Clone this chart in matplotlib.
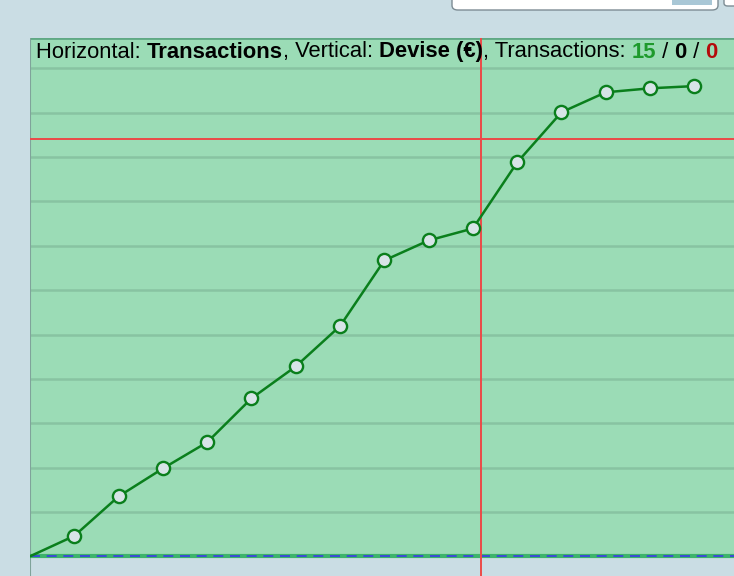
import numpy as np
import matplotlib
matplotlib.use("Agg")
import matplotlib.pyplot as plt
from matplotlib.patches import FancyBboxPatch, Rectangle

# transactions (index) and running balance, in grid units
transactions = list(range(0, 16))
balance = [0, 0.46, 1.35, 1.98, 2.57, 3.56, 4.28, 5.19, 6.67, 7.12, 7.39,
           8.88, 10.01, 10.46, 10.55, 10.60]
red_x = 10.18   # vertical red marker
red_y = 9.41    # horizontal red marker
grid_levels = list(range(1, 12))

header = [("Horizontal: ", "normal", "black"),
          ("Transactions", "bold", "black"),
          (", Vertical: ", "normal", "black"),
          ("Devise (€)", "bold", "black"),
          (", Transactions: ", "normal", "black"),
          ("15", "bold", "#1e9a2c"),
          (" / ", "normal", "black"),
          ("0", "bold", "black"),
          (" / ", "normal", "black"),
          ("0", "bold", "#b40a0a")]

bg = "#cadde4"
green = "#9bdcb6"
W, H = 734, 576
fig = plt.figure(figsize=(W / 100, H / 100), dpi=100, facecolor=bg)

# ui box at top right
box = FancyBboxPatch((452 / W, 1 - 10 / H), 266 / W, 20 / H,
                     boxstyle="round,pad=0,rounding_size=0.008",
                     transform=fig.transFigure, facecolor="white",
                     edgecolor="#7d8c94", lw=1.0)
fig.patches.append(box)
fig.patches.append(Rectangle((672 / W, 1 - 5 / H), 40 / W, 6 / H,
                             transform=fig.transFigure, facecolor="#a9c7d6",
                             edgecolor="none"))
fig.patches.append(FancyBboxPatch((724 / W, 1 - 6 / H), 20 / W, 12 / H,
                                  boxstyle="round,pad=0,rounding_size=0.005",
                                  transform=fig.transFigure, facecolor="white",
                                  edgecolor="#7d8c94", lw=1.0))

ax = fig.add_axes([30 / W, 0, 1 - 30 / W, (H - 38) / H])
ax.set_facecolor("none")
ymin = (556.3 - 576) / 44.36
ymax = (556.3 - 38) / 44.36
ax.set_xlim(0, (W - 30) / 44.29)
ax.set_ylim(ymin, ymax)
for s in ax.spines.values():
    s.set_visible(False)
ax.set_xticks([])
ax.set_yticks([])

ax.axhspan(0, ymax, color=green, zorder=0, lw=0)
for g in grid_levels:
    ax.axhline(g, color="#88c3a2", lw=1.8, zorder=1)
ax.axhline(ymax - 0.01, color="#5fa884", lw=2, zorder=2)
ax.axvline(0.01, color="#7fa39a", lw=1.5, zorder=2)

ax.axhline(0, color="#3cb46a", lw=3, zorder=2)
ax.axhline(0, color="#3a3ae6", lw=1.2, ls=(0, (6, 4)), zorder=3)

ax.axhline(red_y, color="#ec4a48", lw=1.4, zorder=3)
ax.axvline(red_x, color="#ec4a48", lw=1.4, zorder=3)

ax.plot(transactions, balance, color="#0a7f1c", lw=1.8, marker="o",
        markevery=list(range(1, 16)), markersize=9.5, markerfacecolor="#d7e4e7",
        markeredgecolor="#0a7f1c", markeredgewidth=1.7, zorder=5)

# header line built from pieces
renderer = fig.canvas.get_renderer()
xpos = 36
for txt, wt, col in header:
    t = fig.text(xpos / W, 1 - 57.5 / H, txt, fontsize=15.8, fontweight=wt,
                 color=col, family=["Liberation Sans", "DejaVu Sans"],
                 va="baseline", ha="left")
    bb = t.get_window_extent(renderer)
    xpos += bb.width

fig.savefig("out.png", dpi=100, facecolor=bg)
